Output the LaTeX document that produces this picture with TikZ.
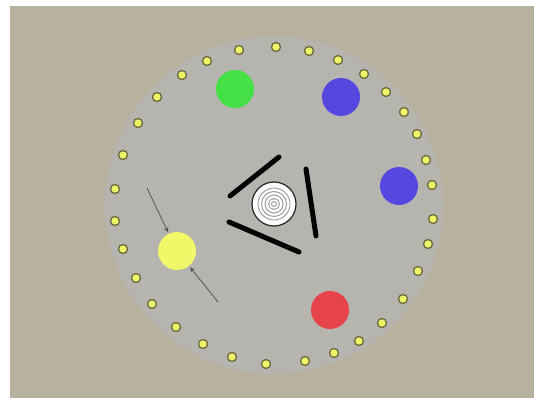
\documentclass[tikz,border=0pt]{standalone}
\usetikzlibrary{arrows.meta}
\definecolor{bgwhite}{HTML}{FFFFFF}
\definecolor{tan}{HTML}{B7B19E}
\definecolor{disk}{HTML}{B5B4AF}
\definecolor{dotfill}{HTML}{EEF56A}
\definecolor{dotedge}{HTML}{6A6A3C}
\definecolor{ballgreen}{HTML}{45E045}
\definecolor{ballblue}{HTML}{5547E0}
\definecolor{ballred}{HTML}{E6434A}
\definecolor{ballyellow}{HTML}{F0F86A}
\definecolor{arrowgray}{HTML}{555555}
\tikzset{
  dotnode/.style={circle, fill=dotfill, draw=dotedge, line width=1.3pt, minimum size=9pt, inner sep=0pt},
  ball/.style={circle, minimum size=38pt, inner sep=0pt},
  bar/.style={line width=5pt, black, line cap=round},
  ring/.style={draw=gray!80, line width=0.9pt},
  pointer/.style={draw=arrowgray, line width=0.8pt, -{Stealth[length=5pt,width=4.5pt]}, shorten >=1.5pt}
}
\begin{document}
\begin{tikzpicture}[x=1pt,y=-1pt]
\useasboundingbox (0,0) rectangle (534,398);
\fill[bgwhite] (0,0) rectangle (534,398);
\fill[tan] (10,6) rectangle (534,398);
\fill[disk] (274,205) circle[radius=169];
% dots on the rim
\foreach \x/\y [count=\i] in {239/50,276/47,309/51,338/60,364/74,386/92,404/112,417/134,426/160,432/185,433/219,428/244,418/271,403/299,382/323,359/341,334/353,305/361,266/364,232/357,203/344,176/327,152/304,136/278,123/249,115/221,115/189,123/155,138/123,157/97,182/75,207/61}
  \node[dotnode] (d\i) at (\x,\y) {};
% coloured balls
\node[ball, fill=ballgreen] (green) at (235,89) {};
\node[ball, fill=ballblue] (blueA) at (341,97) {};
\node[ball, fill=ballblue] (blueB) at (399,186) {};
\node[ball, fill=ballred] (red) at (330,310) {};
\node[ball, fill=ballyellow] (yellow) at (177,251) {};
% arrows toward the yellow ball
\coordinate (s1) at (147,188);
\coordinate (s2) at (218,302);
\draw[pointer] (s1) -- (yellow);
\draw[pointer] (s2) -- (yellow);
% black bars
\draw[bar] (230,196) -- (279,157);
\draw[bar] (306,169) -- (316,236);
\draw[bar] (229,222) -- (299,252);
% central target
\node[circle, fill=white, draw=gray!30!black, line width=1.2pt, minimum size=44pt, inner sep=0pt] (target) at (274,204) {};
\draw[ring] (target.center) circle[radius=16];
\draw[ring] (target.center) circle[radius=12.5];
\draw[ring] (target.center) circle[radius=9];
\draw[ring] (target.center) circle[radius=5.5];
\draw[ring] (target.center) circle[radius=2.5];
\end{tikzpicture}
\end{document}
